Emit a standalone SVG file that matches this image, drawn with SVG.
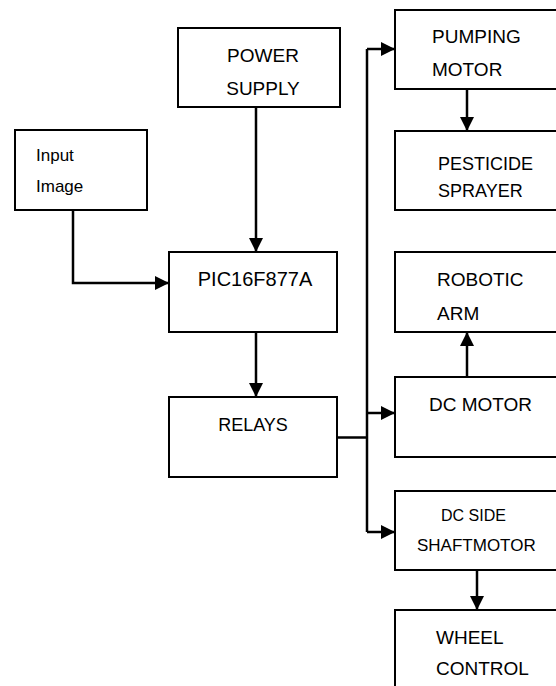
<svg xmlns="http://www.w3.org/2000/svg" width="556" height="686" viewBox="0 0 556 686">
<style>
.box{fill:#fff;stroke:#000;stroke-width:2}
.lbl{font-family:"Liberation Sans",Arial,sans-serif;font-size:19px;fill:#000}
.mid{text-anchor:middle}
.wire{fill:none;stroke:#000;stroke-width:2.5}
</style>
<defs>
<marker id="ah" viewBox="0 0 14 14" refX="14" refY="7" markerWidth="14" markerHeight="14" markerUnits="userSpaceOnUse" orient="auto">
<path d="M0,0 L14,7 L0,14 z" fill="#000"/>
</marker>
</defs>
<rect width="556" height="686" fill="#fff"/>
<g id="connectors">
<path class="wire" d="M256,108 V252" marker-end="url(#ah)"/>
<path class="wire" d="M73,210 V283 H169" marker-end="url(#ah)"/>
<path class="wire" d="M256,332 V397" marker-end="url(#ah)"/>
<path class="wire" d="M337,437.5 H367"/>
<path class="wire" d="M367,49 V532"/>
<path class="wire" d="M367,49 H395" marker-end="url(#ah)"/>
<path class="wire" d="M367,413 H395" marker-end="url(#ah)"/>
<path class="wire" d="M367,532 H395" marker-end="url(#ah)"/>
<path class="wire" d="M467,89 V131" marker-end="url(#ah)"/>
<path class="wire" d="M467,377 V332" marker-end="url(#ah)"/>
<path class="wire" d="M477,570 V610" marker-end="url(#ah)"/>
</g>
<g id="power-supply">
<rect class="box" x="178" y="28" width="162" height="79"/>
<text class="lbl mid" x="263" y="62">POWER</text>
<text class="lbl mid" x="263" y="95">SUPPLY</text>
</g>
<g id="input-image">
<rect class="box" x="15" y="130" width="132" height="80"/>
<text class="lbl" style="font-size:17px" x="36" y="161">Input</text>
<text class="lbl" style="font-size:17px" x="36" y="192">Image</text>
</g>
<g id="pic">
<rect class="box" x="169" y="252" width="168" height="80"/>
<text class="lbl mid" style="font-size:20px" x="255" y="286">PIC16F877A</text>
</g>
<g id="relays">
<rect class="box" x="169" y="397" width="168" height="80"/>
<text class="lbl mid" style="font-size:18px" x="253" y="431">RELAYS</text>
</g>
<g id="pumping-motor">
<rect class="box" x="395" y="10" width="175" height="79"/>
<text class="lbl" x="432" y="43">PUMPING</text>
<text class="lbl" x="432" y="76">MOTOR</text>
</g>
<g id="pesticide-sprayer">
<rect class="box" x="395" y="131" width="175" height="79"/>
<text class="lbl" style="font-size:18px" x="438" y="170">PESTICIDE</text>
<text class="lbl" style="font-size:18px" x="438" y="197">SPRAYER</text>
</g>
<g id="robotic-arm">
<rect class="box" x="395" y="252" width="175" height="80"/>
<text class="lbl" x="437" y="286">ROBOTIC</text>
<text class="lbl" x="437" y="320">ARM</text>
</g>
<g id="dc-motor">
<rect class="box" x="395" y="377" width="175" height="80"/>
<text class="lbl" x="429" y="411">DC MOTOR</text>
</g>
<g id="dc-side-shaft-motor">
<rect class="box" x="395" y="491" width="175" height="79"/>
<text class="lbl" style="font-size:16px" x="441" y="521">DC SIDE</text>
<text class="lbl" style="font-size:17px" x="417" y="551">SHAFTMOTOR</text>
</g>
<g id="wheel-control">
<rect class="box" x="395" y="610" width="175" height="90"/>
<text class="lbl" x="436" y="644">WHEEL</text>
<text class="lbl" x="436" y="675">CONTROL</text>
</g>
</svg>
